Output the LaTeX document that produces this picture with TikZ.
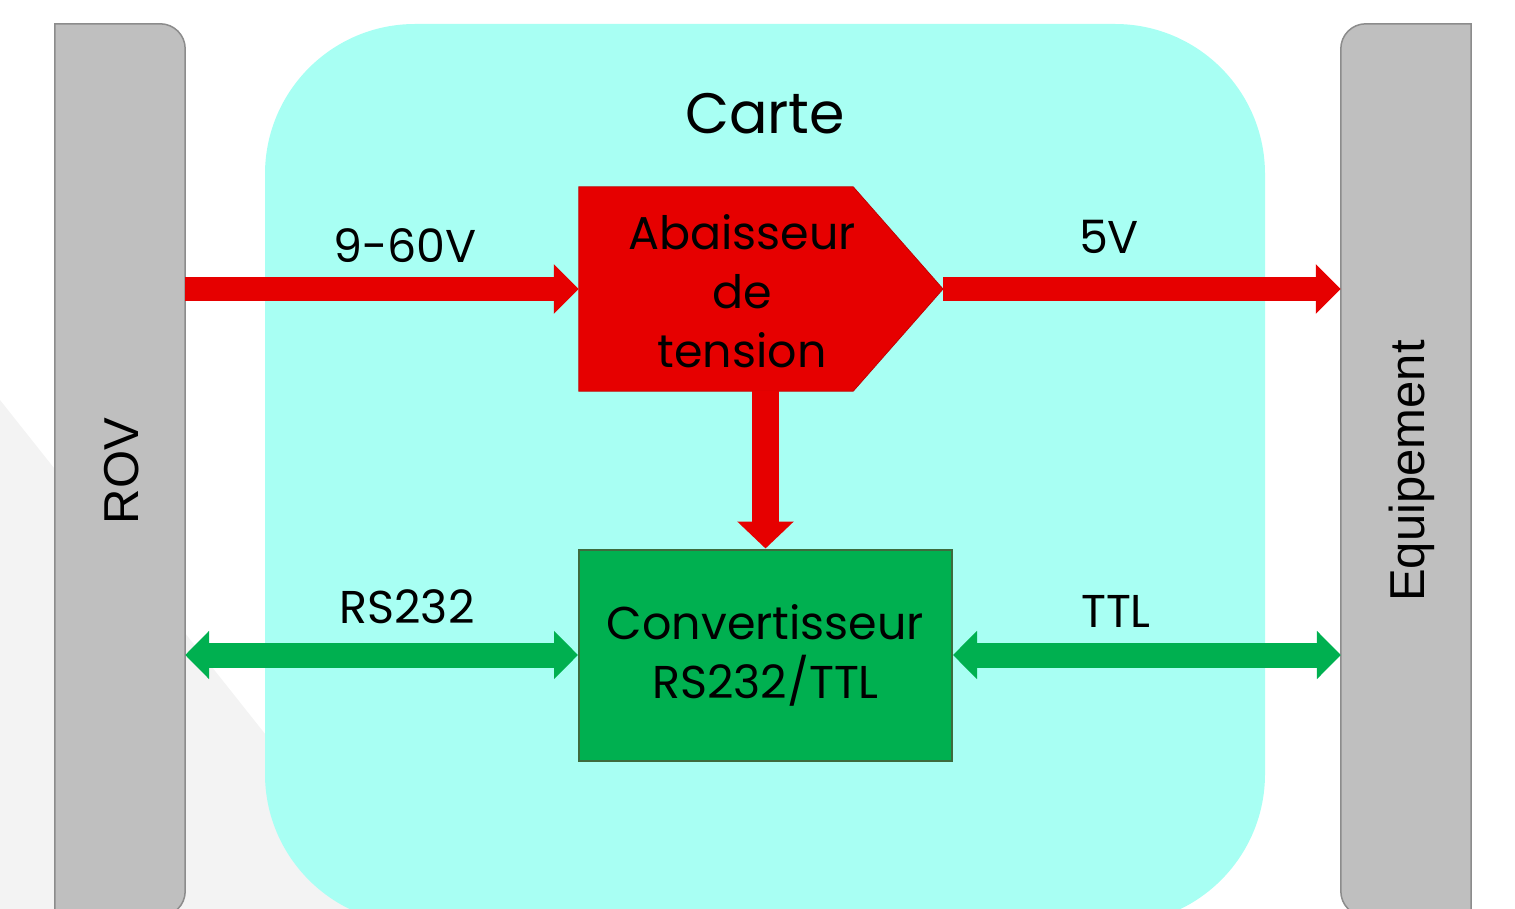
\documentclass[tikz,border=0pt]{standalone}
\usepackage{fontspec}
\setmainfont{Poppins}
\newfontfamily\arialfont{Liberation Sans}
\usetikzlibrary{arrows.meta}

\definecolor{cyancarte}{HTML}{A8FFF3}
\definecolor{grisbarre}{HTML}{BFBFBF}
\definecolor{bordgris}{HTML}{8C8C8C}
\definecolor{rouge}{HTML}{E60000}
\definecolor{vert}{HTML}{00B050}
\definecolor{bordvert}{HTML}{3D6B3D}
\definecolor{fondgris}{HTML}{F3F3F3}

\begin{document}
\begin{tikzpicture}[x=1pt, y=-1pt,
    texte/.style={font=\fontsize{46}{59}\selectfont, align=center, inner sep=0pt},
    barre/.style={minimum width=130pt, minimum height=892pt, inner sep=0pt},
    barretexte/.style={rotate=90, inner sep=0pt, font=\arialfont\fontsize{49}{49}\selectfont},
    flecherouge/.style={draw=rouge, line width=24pt, -{Triangle[length=25pt, width=48pt]}},
    flecheverte/.style={draw=vert, line width=25pt, {Triangle[length=24pt, width=47pt]}-{Triangle[length=24pt, width=47pt]}}]
  \useasboundingbox (0,0) rectangle (1515,909);
  \clip (0,0) rectangle (1515,909);

  % Fond
  \fill[fondgris] (0,400) -- (404,909) -- (0,909) -- cycle;

  % Carte
  \node[fill=cyancarte, rounded corners=150pt, minimum width=1000pt, minimum height=900pt] (carte) at (765,474) {};
  \node[texte, font=\fontsize{57}{57}\selectfont] (titre) at (765,113.5) {Carte};

  % ROV
  \node[barre] (rov) at (120,470) {};
  \filldraw[fill=grisbarre, draw=bordgris, line width=1.5pt] (rov.south west) -- (rov.north west)
    -- ([xshift=-25pt]rov.north east) arc[start angle=90, end angle=0, radius=25pt]
    -- ([yshift=25pt]rov.south east) arc[start angle=0, end angle=-90, radius=25pt] -- cycle;
  \node[barretexte] (rovtxt) at (121.5,471) {ROV};

  % Equipement
  \node[barre] (equip) at (1406,470) {};
  \filldraw[fill=grisbarre, draw=bordgris, line width=1.5pt] (equip.south east) -- (equip.north east)
    -- ([xshift=25pt]equip.north west) arc[start angle=90, end angle=180, radius=25pt]
    -- ([yshift=25pt]equip.south west) arc[start angle=180, end angle=270, radius=25pt] -- cycle;
  \node[barretexte] (equiptxt) at (1412,471) {Equipement};

  % Abaisseur de tension
  \node[inner sep=0pt, minimum width=274pt, minimum height=204pt] (abaisseur) at (716,289) {};
  \coordinate (pointe) at (943,289);
  \filldraw[fill=rouge, draw=rouge!85!black, line width=0.8pt] (abaisseur.north west) -- (abaisseur.north east)
    -- (pointe) -- (abaisseur.south east) -- (abaisseur.south west) -- cycle;
  \node[texte] (abaisseurtxt) at (742,291) {Abaisseur\\de\\tension};

  % Convertisseur
  \node[texte, fill=vert, draw=bordvert, line width=2pt, minimum width=373pt, minimum height=211pt] (conv) at (765.5,655) {Convertisseur\\RS232/TTL};

  % Fleches
  \draw[flecherouge] (rov.east |- pointe) -- (abaisseur.west |- pointe);
  \draw[flecherouge] (pointe) -- (equip.west |- pointe);
  \draw[flecherouge, line width=27pt, -{Triangle[length=27pt, width=55pt]}] (abaisseur.south -| conv.north) -- (conv.north);
  \draw[flecheverte] (rov.east |- conv.west) -- (conv.west);
  \draw[flecheverte] (conv.east) -- (equip.west |- conv.east);

  % Etiquettes
  \node[texte] (tension) at (405,245.5) {9-60V};
  \node[texte] (cinqv) at (1109,237) {5V};
  \node[texte] (rs) at (407,607) {RS232};
  \node[texte] (ttl) at (1116,611) {TTL};
\end{tikzpicture}
\end{document}
